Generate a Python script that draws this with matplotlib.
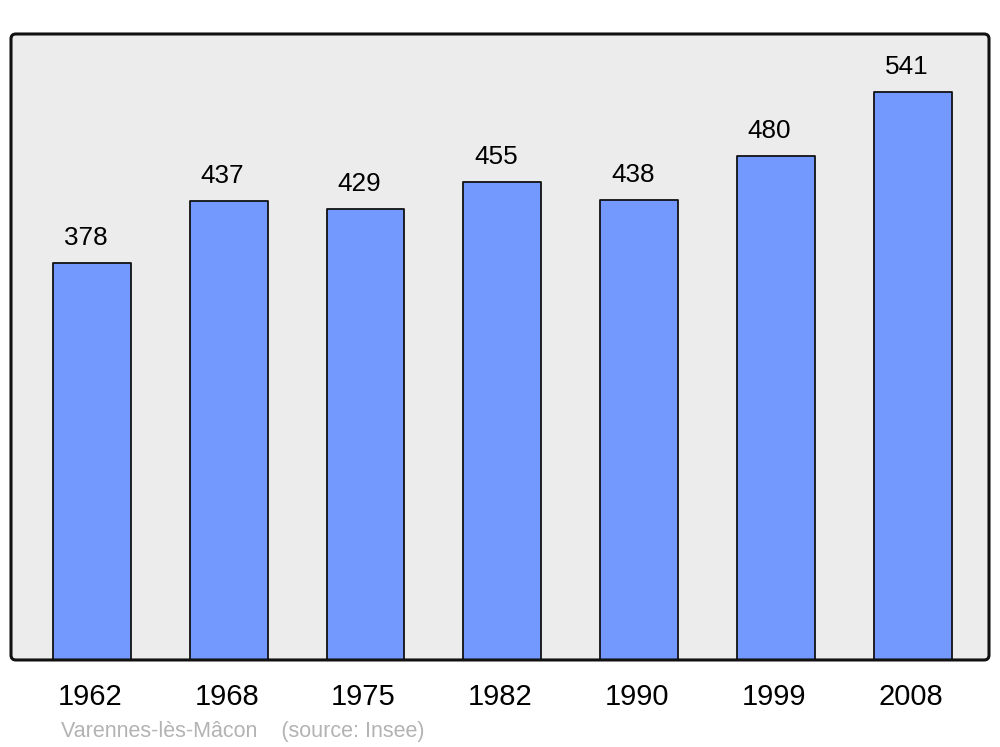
import matplotlib.pyplot as plt
from matplotlib.patches import FancyBboxPatch
from matplotlib.transforms import ScaledTranslation

plt.rcParams['font.family'] = ['Liberation Sans', 'DejaVu Sans']

years = ['1962', '1968', '1975', '1982', '1990', '1999', '2008']
population = [378, 437, 429, 455, 438, 480, 541]
source_text = 'Varennes-lès-Mâcon    (source: Insee)'

fig = plt.figure(figsize=(10, 7.47), dpi=100)
ax = fig.add_axes([0.011, 0.1165, 0.978, 0.838])
ax.patch.set_visible(False)
for s in ax.spines.values():
    s.set_visible(False)

# rounded frame
asp = (0.978 * 1000) / (0.838 * 747)
bg = FancyBboxPatch((0, 0), 1, 1, boxstyle='round,pad=0,rounding_size=0.005',
                    mutation_aspect=asp, transform=ax.transAxes,
                    facecolor='#ececec', edgecolor='none', zorder=0, clip_on=False)
ax.add_patch(bg)
frame = FancyBboxPatch((0, 0), 1, 1, boxstyle='round,pad=0,rounding_size=0.005',
                       mutation_aspect=asp, transform=ax.transAxes,
                       facecolor='none', edgecolor='#111111', linewidth=2.2,
                       zorder=5, clip_on=False)
ax.add_patch(frame)

x = range(len(years))
bars = ax.bar(x, population, width=0.57, color='#7399ff', edgecolor='#111111',
              linewidth=1.3, zorder=2)
for b in bars:
    b.set_joinstyle('round')

for xi, v in zip(x, population):
    ax.annotate(str(v), (xi, v), xytext=(-4.5, 13), textcoords='offset points',
                ha='center', va='baseline', fontsize=18.8, color='black')

ax.set_xlim(-0.592, 6.559)
ax.set_ylim(0, 596)
ax.set_xticks(list(x))
ax.set_xticklabels(years, fontsize=21)
ax.tick_params(axis='x', length=0, pad=16.5)
for lab in ax.get_xticklabels():
    lab.set_transform(lab.get_transform() + ScaledTranslation(-0.02, 0, fig.dpi_scale_trans))
ax.set_yticks([])

fig.text(0.061, (747 - 737) / 747, source_text, fontsize=15.5, color='#b3b3b3',
         va='baseline', ha='left')

fig.savefig('out.png', dpi=100)
